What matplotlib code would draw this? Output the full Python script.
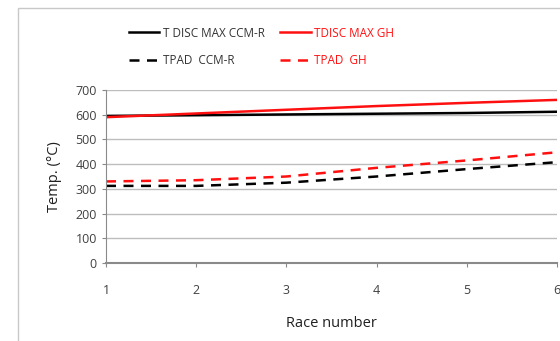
import matplotlib.pyplot as plt
from matplotlib.patches import Rectangle

plt.rcParams['font.family'] = ['Open Sans', 'DejaVu Sans']

# data
race = [1, 2, 3, 4, 5, 6]
tdisc_ccm = [595, 598, 601, 604, 607, 612]
tdisc_gh = [590, 605, 620, 635, 648, 660]
tpad_ccm = [312, 312, 325, 350, 380, 408]
tpad_gh = [330, 335, 350, 385, 415, 448]

fig = plt.figure(figsize=(5.6, 3.41), dpi=100)
fig.patches.append(Rectangle((18 / 560, -0.1), 1.0, 1 - 8 / 341 + 0.1,
                             transform=fig.transFigure, fill=False,
                             edgecolor='#c8c8c8', linewidth=1))

ax = fig.add_axes([106 / 560, 1 - 263 / 341, (557 - 106) / 560, (263 - 90) / 341])

l1, = ax.plot(race, tdisc_ccm, color='black', lw=1.8, label='T DISC MAX CCM-R')
l2, = ax.plot(race, tdisc_gh, color='#ff1010', lw=1.8, label='TDISC MAX GH')
l3, = ax.plot(race, tpad_ccm, color='black', lw=1.8, ls=(0, (4, 3)), label='TPAD  CCM-R')
l4, = ax.plot(race, tpad_gh, color='#ff1010', lw=1.8, ls=(0, (4, 3)), label='TPAD  GH')

ax.set_xlim(1, 6)
ax.set_ylim(0, 700)
ax.set_yticks(range(0, 701, 100))
ax.set_xticks(race)
ax.yaxis.grid(True, color='#bdbdbd', lw=1)
ax.set_axisbelow(True)
for s in ['top', 'right']:
    ax.spines[s].set_visible(False)
ax.spines['left'].set_color('#8a8a8a')
ax.spines['bottom'].set_color('#8a8a8a')
ax.spines['bottom'].set_linewidth(1.5)
ax.tick_params(axis='both', colors='#8a8a8a', labelcolor='#404040', labelsize=9, length=3)
ax.tick_params(axis='x', pad=12)

ax.set_ylabel('Temp. (°C)', fontsize=10.5, color='#202020', labelpad=10)
ax.set_xlabel('Race number', fontsize=10.5, color='#202020', labelpad=14)

# column-first order so the rows read solid / dashed
leg = fig.legend(handles=[l1, l3, l2, l4], ncol=2, loc='upper left',
                 bbox_to_anchor=(118 / 560, 1 - 16 / 341), frameon=False,
                 fontsize=8.5, handlelength=2.6, handletextpad=0.3,
                 columnspacing=1.3, labelspacing=1.2,
                 labelcolor=['#333333', '#333333', '#ff1010', '#ff1010'])

fig.savefig('out.png', dpi=100)
